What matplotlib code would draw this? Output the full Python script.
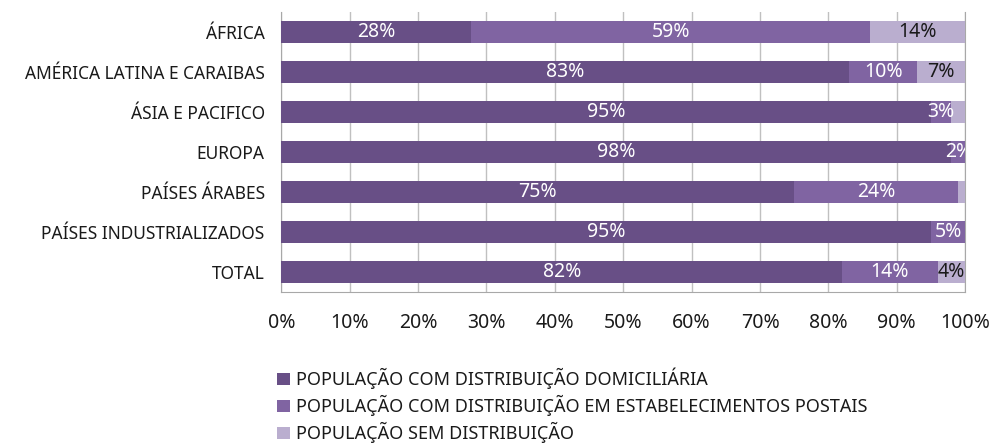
import numpy as np
import matplotlib.pyplot as plt

plt.rcParams['font.family'] = ['Noto Sans', 'DejaVu Sans']

regioes = ["ÁFRICA", "AMÉRICA LATINA E CARAIBAS", "ÁSIA E PACIFICO", "EUROPA",
           "PAÍSES ÁRABES", "PAÍSES INDUSTRIALIZADOS", "TOTAL"]
domiciliaria = [28, 83, 95, 98, 75, 95, 82]
postais = [59, 10, 3, 2, 24, 5, 14]
sem_distrib = [14, 7, 2, 0, 1, 0, 4]
# rotulos mostrados no grafico (None = sem rotulo)
rot_sem = ["14%", "7%", None, None, None, None, "4%"]

series = ["POPULAÇÃO COM DISTRIBUIÇÃO DOMICILIÁRIA",
          "POPULAÇÃO COM DISTRIBUIÇÃO EM ESTABELECIMENTOS POSTAIS",
          "POPULAÇÃO SEM DISTRIBUIÇÃO"]
cores = ["#684F86", "#8064A2", "#BAAECF"]
cor_texto = ["white", "white", "#1a1a1a"]

fig = plt.figure(figsize=(9.94, 4.43), dpi=100)
ax = fig.add_axes([0.283, 0.341, 0.688, 0.632])

dados = np.array([domiciliaria, postais, sem_distrib], dtype=float)
frac = dados / dados.sum(axis=0) * 100
rotulos = [[f"{v}%" for v in domiciliaria], [f"{v}%" for v in postais], rot_sem]
y = np.arange(len(regioes))

esquerda = np.zeros(len(regioes))
for i in range(3):
    ax.barh(y, frac[i], left=esquerda, height=0.55, color=cores[i],
            label=series[i], zorder=3)
    for j in range(len(regioes)):
        if rotulos[i][j] and dados[i, j] > 0:
            ax.text(esquerda[j] + frac[i, j] / 2, y[j], rotulos[i][j],
                    ha="center", va="center", color=cor_texto[i],
                    fontsize=14, zorder=4, clip_on=True)
    esquerda += frac[i]

ax.set_xlim(0, 100)
ax.set_ylim(len(regioes) - 0.5, -0.5)
ax.set_yticks(y)
ax.set_yticklabels(regioes, fontsize=12.5, color="#1a1a1a")
ax.set_xticks(np.arange(0, 101, 10))
ax.set_xticklabels([f"{v}%" for v in range(0, 101, 10)], fontsize=14, color="#1a1a1a")
ax.tick_params(axis="y", length=0, pad=12)
ax.tick_params(axis="x", length=0, pad=15)
ax.grid(axis="x", color="#c0c0c0", linewidth=1, zorder=0)
for s in ax.spines.values():
    s.set_color("#a8a8a8")
ax.spines["top"].set_visible(False)

fig.legend(loc="upper left", bbox_to_anchor=(0.270, 0.19), frameon=False,
           fontsize=13, handlelength=0.7, handleheight=0.7, handletextpad=0.35,
           labelspacing=0.33, borderpad=0, labelcolor="#1a1a1a")

fig.savefig("out.png", dpi=100)
